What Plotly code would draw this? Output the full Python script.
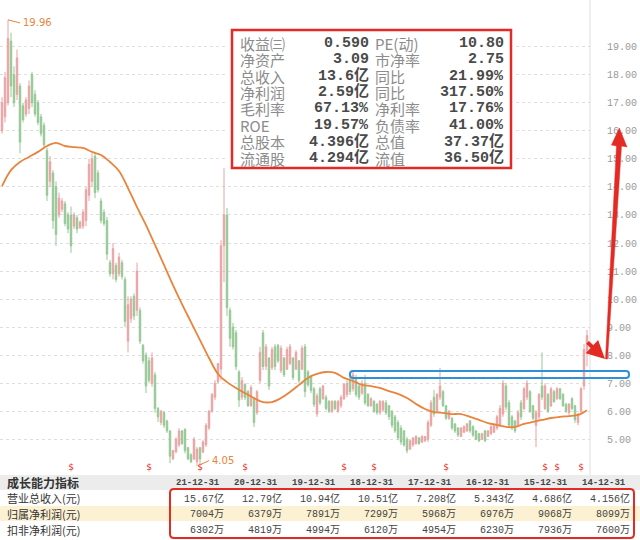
import plotly.graph_objects as go

W, H = 640, 540

# ── candle data (price, one candle per period) ──────────────
opens = [16.0, 16.5, 17.0, 19.2, 18.0, 17.3, 17.6, 16.9, 16.6, 16.8, 18.0, 17.3, 17.0, 16.5, 16.2, 15.3, 14.2, 14.5, 14.0, 13.0,
         13.2, 13.4, 13.0, 13.0, 12.6, 12.9, 12.55, 12.6, 12.8, 13.7, 14.2, 15.1, 14.5, 13.5, 13.1, 12.8, 11.3, 10.9, 11.2, 10.9,
         11.3, 10.7, 8.5, 9.3, 10.1, 9.6, 9.6, 8.35, 8.0, 7.8, 7.0, 7.3, 6.1, 5.6, 5.95, 5.65, 5.3, 4.3, 4.55, 4.8,
         5.3, 5.35, 4.7, 4.45, 4.3, 4.2, 4.7, 4.55, 4.8, 5.4, 6.0, 6.5, 7.05, 7.5, 11.9, 13.0, 9.6, 9.0, 8.8, 7.4,
         6.5, 6.95, 6.7, 6.2, 6.45, 5.95, 7.1, 8.8, 7.6, 7.9, 7.55, 8.3, 8.35, 7.45, 7.9, 7.5, 7.7, 7.9, 7.5, 7.8,
         7.5, 8.3, 7.4, 7.25, 6.8, 5.9, 6.8, 6.45, 6.5, 6.35, 6.0, 6.35, 6.0, 6.2, 6.45, 6.6, 7.1, 6.8, 7.2, 6.9,
         6.65, 7.0, 6.6, 6.2, 6.35, 6.25, 5.95, 6.05, 6.3, 6.2, 6.0, 5.8, 5.6, 5.4, 5.3, 5.0, 4.65, 4.8, 4.85, 5.05,
         4.9, 4.95, 5.0, 5.5, 6.5, 6.0, 6.5, 6.7, 6.2, 5.75, 5.75, 5.55, 5.4, 5.1, 5.25, 5.3, 5.65, 5.45, 5.3, 5.2,
         5.0, 5.3, 5.1, 5.2, 5.25, 5.4, 5.5, 5.9, 6.9, 6.3, 5.8, 5.65, 5.5, 6.3, 6.1, 6.5, 6.7, 6.2, 5.5, 5.8,
         6.9, 6.1, 6.6, 6.2, 6.7, 6.45, 6.8, 6.6, 6.25, 5.95, 6.45, 6.2, 5.6, 6.0, 6.9, 8.1]
highs = [17.2, 18.1, 19.96, 19.5, 18.3, 18.9, 17.7, 17.0, 17.2, 17.8, 18.1, 17.45, 17.1, 16.6, 16.3, 15.4, 15.1, 14.6, 14.2, 13.8,
         13.6, 13.5, 13.1, 13.3, 13.1, 13.0, 12.8, 13.2, 14.0, 15.0, 15.2, 15.25, 14.6, 13.6, 13.2, 12.93, 11.4, 12.0, 11.3, 11.65,
         11.4, 10.8, 10.1, 10.1, 10.2, 11.3, 9.7, 8.4, 8.1, 7.93, 8.1, 7.4, 6.15, 6.05, 6.0, 5.7, 5.33, 4.62, 5.08, 5.4,
         5.33, 5.4, 4.73, 4.5, 5.08, 4.73, 4.73, 4.97, 5.58, 6.05, 6.65, 7.11, 7.72, 12.1, 14.67, 13.25, 9.7, 9.15, 8.9, 7.47,
         7.22, 7.0, 6.76, 6.94, 6.5, 6.76, 8.3, 8.9, 8.4, 7.93, 8.3, 8.4, 8.4, 8.35, 7.93, 8.3, 8.4, 7.93, 8.18, 7.83,
         8.35, 8.4, 7.47, 7.3, 6.87, 6.65, 6.87, 6.94, 6.58, 6.4, 6.4, 6.4, 6.4, 6.58, 7.0, 7.11, 7.22, 7.4, 7.3, 6.94,
         7.11, 7.3, 6.65, 6.5, 6.4, 6.3, 6.4, 6.4, 6.4, 6.22, 6.04, 5.87, 5.69, 5.5, 5.33, 5.08, 4.97, 5.08, 5.15, 5.08,
         5.15, 5.12, 5.69, 6.4, 6.76, 6.65, 7.55, 6.76, 6.22, 6.04, 5.8, 5.58, 5.44, 5.44, 5.5, 5.58, 5.69, 5.5, 5.33, 5.23,
         5.23, 5.33, 5.33, 5.5, 5.58, 5.87, 6.22, 7.11, 7.0, 6.4, 5.87, 5.69, 6.04, 6.4, 6.87, 7.11, 6.76, 6.22, 6.04, 6.65,
         8.1, 7.0, 6.65, 6.87, 6.76, 6.87, 6.83, 6.65, 6.3, 6.3, 6.5, 6.22, 5.94, 6.87, 8.4, 8.9]
lows = [15.9, 16.3, 16.9, 17.2, 16.85, 17.1, 15.2, 16.3, 16.5, 16.6, 16.85, 16.5, 16.2, 15.8, 15.4, 13.5, 14.0, 12.5, 11.9, 12.9,
        13.1, 12.6, 12.35, 11.65, 12.5, 12.35, 12.5, 12.5, 12.6, 13.5, 14.0, 13.6, 13.8, 12.7, 12.6, 11.4, 10.8, 10.7, 10.6, 10.8,
        10.7, 9.0, 8.1, 9.15, 9.25, 9.4, 8.4, 7.7, 6.65, 7.0, 6.87, 5.95, 5.62, 5.5, 5.4, 5.23, 4.15, 4.26, 4.5, 4.72,
        4.8, 4.5, 4.26, 4.15, 4.26, 4.05, 4.15, 4.5, 4.73, 5.33, 5.94, 6.4, 7.0, 7.1, 10.6, 9.4, 8.3, 8.2, 7.47, 6.15,
        6.4, 6.4, 6.15, 6.15, 5.44, 5.87, 7.0, 7.47, 7.47, 6.76, 7.47, 7.47, 7.72, 7.36, 7.22, 7.47, 7.65, 7.11, 7.47, 7.0,
        7.47, 6.5, 6.87, 6.65, 6.15, 5.8, 6.22, 6.4, 6.04, 5.94, 5.94, 6.04, 5.94, 6.12, 6.4, 6.5, 6.58, 6.7, 6.5, 6.4,
        6.58, 6.22, 6.15, 6.15, 5.94, 5.87, 5.87, 5.97, 5.87, 5.69, 5.4, 5.23, 4.97, 4.8, 4.73, 4.5, 4.62, 4.73, 4.8, 4.8,
        4.87, 4.9, 4.9, 5.44, 5.8, 5.94, 6.4, 6.15, 5.69, 5.69, 5.33, 5.23, 5.08, 5.08, 5.23, 5.26, 5.23, 5.08, 4.97, 4.9,
        4.97, 4.9, 5.08, 5.15, 5.23, 5.33, 5.44, 5.8, 6.04, 5.44, 5.33, 5.23, 5.44, 5.69, 6.04, 6.4, 5.94, 5.69, 4.72, 5.69,
        6.4, 6.04, 5.94, 6.15, 6.3, 6.4, 6.4, 6.15, 5.94, 5.87, 6.04, 5.58, 5.5, 5.94, 6.76, 7.6]
closes = [17.0, 17.9, 19.3, 17.6, 17.0, 18.6, 15.6, 16.4, 17.1, 17.6, 17.0, 16.6, 16.3, 15.9, 15.5, 13.7, 14.9, 12.8, 12.3, 13.6,
          13.5, 12.7, 12.5, 11.9, 13.0, 12.5, 12.75, 13.1, 13.9, 14.8, 15.0, 13.8, 13.9, 12.8, 12.7, 11.6, 10.9, 11.8, 10.7, 11.5,
          10.8, 9.2, 9.8, 10.0, 9.4, 11.0, 8.5, 7.8, 6.9, 7.1, 7.9, 6.1, 5.8, 6.0, 5.5, 5.3, 4.4, 4.6, 5.0, 5.3,
          4.85, 4.6, 4.3, 4.2, 5.0, 4.65, 4.3, 4.9, 5.5, 6.0, 6.6, 7.0, 7.7, 11.9, 13.0, 9.7, 8.6, 8.3, 7.6, 6.4,
          7.1, 6.5, 6.2, 6.85, 5.6, 6.7, 8.1, 7.6, 8.3, 6.9, 8.2, 7.6, 7.8, 8.25, 7.3, 8.2, 8.3, 7.2, 8.1, 7.1,
          8.25, 6.7, 6.95, 6.75, 6.25, 6.55, 6.3, 6.9, 6.1, 6.0, 6.35, 6.1, 6.35, 6.5, 6.95, 7.0, 6.7, 7.3, 6.6, 6.5,
          7.0, 6.3, 6.2, 6.45, 6.0, 5.95, 6.35, 6.35, 5.95, 5.8, 5.5, 5.3, 5.05, 4.9, 4.8, 4.6, 4.95, 5.05, 5.1, 4.85,
          5.1, 5.1, 5.6, 6.3, 5.9, 6.6, 6.9, 6.2, 5.75, 6.0, 5.4, 5.3, 5.15, 5.4, 5.45, 5.55, 5.3, 5.15, 5.0, 4.95,
          5.2, 4.95, 5.3, 5.45, 5.5, 5.8, 6.1, 7.0, 6.15, 5.5, 5.4, 5.3, 5.95, 5.8, 6.8, 7.0, 6.0, 5.75, 5.95, 6.6,
          6.5, 6.9, 6.0, 6.8, 6.35, 6.8, 6.45, 6.2, 6.0, 6.25, 6.1, 5.7, 5.9, 6.8, 8.2, 8.7]

# moving average, read at every third candle
ma_idx = list(range(0, 196, 3))
ma_vals = [14.03, 14.60, 14.89, 15.07, 15.25, 15.46, 15.57, 15.46, 15.42, 15.39, 15.25, 15.14, 14.89, 14.57, 13.96, 13.28,
           12.64, 11.93, 11.22, 10.50, 9.82, 9.18, 8.54, 7.90, 7.33, 7.04, 6.83, 6.65, 6.47, 6.33, 6.33, 6.47, 6.69, 6.94,
           7.19, 7.33, 7.40, 7.37, 7.19, 7.08, 6.94, 6.90, 6.83, 6.72, 6.62, 6.47, 6.26, 6.08, 5.97, 5.94, 5.90, 5.90, 5.80,
           5.69, 5.58, 5.51, 5.44, 5.44, 5.55, 5.62, 5.69, 5.76, 5.80, 5.83, 5.87, 6.04]

# dividend markers (candle index)
div_idx = [23, 49, 66, 81, 114, 124, 148, 181, 185, 193]

price_ticks = list(range(5, 20))

# info panel
labels_l = ["收益㈢", "净资产", "总收入", "净利润", "毛利率", "ROE", "总股本", "流通股"]
vals_l = ["0.590", "3.09", "13.6亿", "2.59亿", "67.13%", "19.57%", "4.396亿", "4.294亿"]
labels_r = ["PE(动)", "市净率", "同比", "同比", "净利率", "负债率", "总值", "流值"]
vals_r = ["10.80", "2.75", "21.99%", "317.50%", "17.76%", "41.00%", "37.37亿", "36.50亿"]

# growth table
dates = ["21-12-31", "20-12-31", "19-12-31", "18-12-31", "17-12-31", "16-12-31", "15-12-31", "14-12-31"]
row_names = ["营业总收入(元)", "归属净利润(元)", "扣非净利润(元)"]
revenue = ["15.67亿", "12.79亿", "10.94亿", "10.51亿", "7.208亿", "5.343亿", "4.686亿", "4.156亿"]
net_profit = ["7004万", "6379万", "7891万", "7299万", "5968万", "6976万", "9068万", "8099万"]
deducted = ["6302万", "4819万", "4994万", "6120万", "4954万", "6230万", "7936万", "7600万"]

# ── helpers (pixel → paper) ──────────────────────────────────
def px(x):
    return x / W


def py(y):
    return 1 - y / H


def path(points):
    return "M " + " L ".join(f"{px(x):.5f},{py(y):.5f}" for x, y in points) + " Z"


def rrect(x0, y0, x1, y1, r):
    p = lambda x, y: f"{px(x):.5f},{py(y):.5f}"
    return (f"M {p(x0 + r, y0)} L {p(x1 - r, y0)} Q {p(x1, y0)} {p(x1, y0 + r)} "
            f"L {p(x1, y1 - r)} Q {p(x1, y1)} {p(x1 - r, y1)} L {p(x0 + r, y1)} "
            f"Q {p(x0, y1)} {p(x0, y1 - r)} L {p(x0, y0 + r)} Q {p(x0, y0)} {p(x0 + r, y0)} Z")


RED = "#e32b24"
ORANGE = "#e8843c"
CJK = "Noto Sans CJK SC"
MONO = "Liberation Mono, Noto Sans CJK SC"

n = len(closes)
fig = go.Figure()
fig.add_trace(go.Candlestick(
    x=list(range(n)), open=opens, high=highs, low=lows, close=closes,
    increasing=dict(line=dict(color="#eaa3a3", width=1), fillcolor="#eaa3a3"),
    decreasing=dict(line=dict(color="#95c795", width=1), fillcolor="#95c795"),
    whiskerwidth=0, hoverinfo="skip",
))
fig.add_trace(go.Scatter(
    x=ma_idx, y=ma_vals, mode="lines",
    line=dict(color=ORANGE, width=1.8, shape="spline"), hoverinfo="skip",
))
fig.add_trace(go.Scatter(
    x=div_idx, y=[3.98] * len(div_idx), mode="text", text=["$"] * len(div_idx),
    textfont=dict(color=RED, size=9, family="DejaVu Sans"), hoverinfo="skip",
))

shapes = []
ann = []

# table backgrounds
shapes.append(dict(type="rect", xref="paper", yref="paper", x0=0, x1=1, y0=py(490), y1=py(475),
                   fillcolor="#ececec", line_width=0, layer="below"))
shapes.append(dict(type="rect", xref="paper", yref="paper", x0=0, x1=1, y0=py(521), y1=py(506),
                   fillcolor="#fcf1d2", line_width=0, layer="below"))
# right border of price area
shapes.append(dict(type="line", xref="paper", yref="paper", x0=px(590), x1=px(590), y0=py(475), y1=1,
                   line=dict(color="#dddddd", width=1)))

# info panel
shapes.append(dict(type="rect", xref="paper", yref="paper", x0=px(226), x1=px(516), y0=py(178), y1=py(24),
                   fillcolor="white", line_width=0))
shapes.append(dict(type="rect", xref="paper", yref="paper", x0=px(232), x1=px(511), y0=py(168), y1=py(30),
                   fillcolor="rgba(0,0,0,0)", line=dict(color=RED, width=2.5)))
for k in range(len(labels_l)):
    yy = py(43.3 + 16.4 * k)
    ann.append(dict(x=px(238), y=yy, text=labels_l[k], xanchor="left",
                    font=dict(family=CJK, size=15, color="#8c8c8c")))
    ann.append(dict(x=px(371), y=yy, text=f"<b>{vals_l[k]}</b>", xanchor="right",
                    font=dict(family=MONO, size=15, color="#4a4a4a")))
    ann.append(dict(x=px(373), y=yy, text=labels_r[k], xanchor="left",
                    font=dict(family=CJK, size=15, color="#8c8c8c")))
    ann.append(dict(x=px(506), y=yy, text=f"<b>{vals_r[k]}</b>", xanchor="right",
                    font=dict(family=MONO, size=15, color="#4a4a4a")))

# resistance band and table frame
shapes.append(dict(type="path", xref="paper", yref="paper", path=rrect(350, 371, 629, 378, 3),
                   line=dict(color="#2f8fd8", width=2)))
shapes.append(dict(type="path", xref="paper", yref="paper", path=rrect(170, 489, 634, 538, 4),
                   line=dict(color=RED, width=2)))

# long red arrow
shapes.append(dict(type="path", xref="paper", yref="paper",
                   path=path([(605.5, 359), (607.5, 359), (621.5, 146), (627, 147), (619.3, 128),
                              (611.5, 145), (616.5, 146)]),
                   fillcolor=RED, line=dict(color=RED, width=0.5)))
# short bold arrow
ann.append(dict(x=px(605), y=py(359), text="", showarrow=True, ax=-19, ay=-18,
                arrowhead=2, arrowsize=0.9, arrowwidth=4, arrowcolor=RED))

# high / low labels
shapes.append(dict(type="line", xref="x", yref="y", x0=2, y0=19.96, x1=6, y1=19.85,
                   line=dict(color=ORANGE, width=1)))
ann.append(dict(x=6.3, y=19.85, xref="x", yref="y", text="19.96", xanchor="left",
                font=dict(family="DejaVu Sans", size=10, color=ORANGE)))
shapes.append(dict(type="line", xref="x", yref="y", x0=65.5, y0=4.07, x1=69, y1=4.24,
                   line=dict(color=ORANGE, width=1)))
ann.append(dict(x=69.2, y=4.26, xref="x", yref="y", text="4.05", xanchor="left",
                font=dict(family="DejaVu Sans", size=10, color=ORANGE)))

# growth table text
ann.append(dict(x=px(5), y=py(482.5), text="<b>成长能力指标</b>", xanchor="left",
                font=dict(family=CJK, size=12, color="#333333")))
for r, name in enumerate(row_names):
    ann.append(dict(x=px(5), y=py(498 + 16 * r), text=name, xanchor="left",
                    font=dict(family=CJK, size=11, color="#333333")))
for c in range(len(dates)):
    xr = 226 + 58 * c
    ann.append(dict(x=px(xr - 4), y=py(482.5), text=f"<b>{dates[c]}</b>", xanchor="right",
                    font=dict(family=MONO, size=9, color="#444444")))
    for r, row in enumerate([revenue, net_profit, deducted]):
        ann.append(dict(x=px(xr), y=py(498 + 16 * r), text=row[c], xanchor="right",
                        font=dict(family=MONO, size=10, color="#444444")))

for a in ann:
    a.setdefault("xref", "paper")
    a.setdefault("yref", "paper")
    a.setdefault("showarrow", False)
    a.setdefault("yanchor", "middle")

fig.update_layout(
    width=W, height=H,
    margin=dict(l=0, r=0, t=0, b=0),
    paper_bgcolor="white", plot_bgcolor="white",
    showlegend=False,
    shapes=shapes, annotations=ann,
    xaxis=dict(domain=[0, 590 / W], range=[-2 / 3, 196], showgrid=False, zeroline=False,
               showticklabels=False, rangeslider=dict(visible=False), fixedrange=True),
    yaxis=dict(domain=[1 - 475 / H, 1], range=[20.667 - 475 / 28.04, 20.667], side="right",
               tickvals=price_ticks, ticktext=[f"{v:.2f}" for v in price_ticks],
               showgrid=True, gridcolor="#dedede", griddash="dot", zeroline=False,
               ticks="", ticklabelstandoff=16, automargin=False,
               tickfont=dict(family="Liberation Mono", size=10, color="#9a9a9a")),
)

# the page's default body margin would shift the figure by 8px
fig.write_html("out.html", config={"displayModeBar": False},
               post_script="document.body.style.margin='0';document.body.style.overflow='hidden';")
